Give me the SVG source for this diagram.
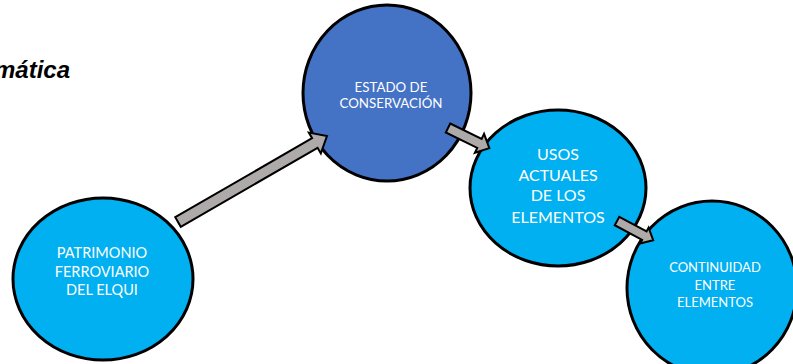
<svg xmlns="http://www.w3.org/2000/svg" width="793" height="364" viewBox="0 0 793 364">
<style>
.node{stroke:#000;stroke-width:3}
.light{fill:#00B0F0}
.dark{fill:#4472C4}
.lbl{font-family:Lato,"Liberation Sans",sans-serif;fill:#fff;text-anchor:middle}
.arrow{fill:#AEAAAA;stroke:#000;stroke-width:2;stroke-linejoin:miter}
.title{font-family:"Liberation Sans",Arial,sans-serif;font-weight:bold;font-style:italic;font-size:24px;fill:#000}
</style>
<rect width="793" height="364" fill="#fff"/>
<text class="title" x="70" y="78" text-anchor="end">mática</text>
<g id="node-patrimonio">
<ellipse class="node light" cx="103" cy="279" rx="90" ry="81"/>
<text class="lbl" font-size="14.5"><tspan x="102" y="258">PATRIMONIO</tspan><tspan x="102" y="277">FERROVIARIO</tspan><tspan x="102" y="295">DEL ELQUI</tspan></text>
</g>
<g id="node-estado">
<ellipse class="node dark" cx="387" cy="93" rx="84" ry="88"/>
<text class="lbl" font-size="13.3"><tspan x="391" y="92">ESTADO DE</tspan><tspan x="391" y="108">CONSERVACIÓN</tspan></text>
</g>
<g id="node-usos">
<ellipse class="node light" cx="558" cy="188" rx="88" ry="78"/>
<text class="lbl" font-size="16"><tspan x="558" y="160">USOS</tspan><tspan x="558" y="181">ACTUALES</tspan><tspan x="558" y="201">DE LOS</tspan><tspan x="558" y="223">ELEMENTOS</tspan></text>
</g>
<g id="node-continuidad">
<ellipse class="node light" cx="712" cy="288" rx="85" ry="87"/>
<text class="lbl" font-size="13"><tspan x="715" y="272">CONTINUIDAD</tspan><tspan x="715" y="289.5">ENTRE</tspan><tspan x="715" y="307">ELEMENTOS</tspan></text>
</g>
<g id="connectors">
<path class="arrow" transform="translate(178,222) rotate(-30)" d="M0,-5.5 L158,-5.5 L158,-12 L172,0 L158,12 L158,5.5 L0,5.5 Z"/>
<path class="arrow" transform="translate(448,128) rotate(26)" d="M0,-5 L35,-5 L35,-10.5 L46,0 L35,10.5 L35,5 L0,5 Z"/>
<path class="arrow" transform="translate(617,221) rotate(28)" d="M0,-4.8 L31,-4.8 L31,-9 L41,0 L31,9 L31,4.8 L0,4.8 Z"/>
</g>
</svg>
